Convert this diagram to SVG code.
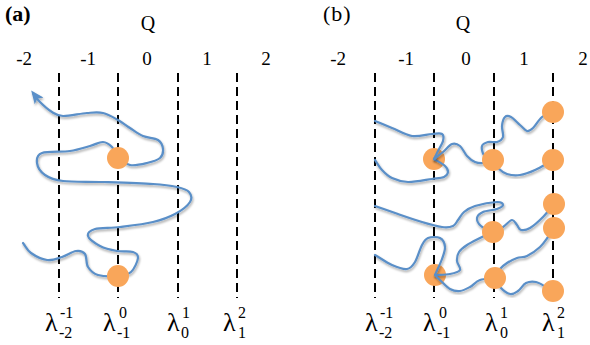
<svg xmlns="http://www.w3.org/2000/svg" width="590" height="345" viewBox="0 0 590 345">
<defs>
<style>
.t{font-family:"Liberation Serif","Times New Roman",serif;fill:#000}
.num{font-size:19px}
.q{font-size:20px}
.lab{font-size:22px}
.lam{font-size:26px}
.sc{font-size:16px}
.dash{stroke:#000;stroke-width:2;stroke-dasharray:9 5;fill:none}
.cv{fill:none;stroke:#5A8FC8;stroke-width:2.2;stroke-linecap:round;stroke-linejoin:round;filter:url(#sh)}
.dot{fill:#F9A65A}
</style>
<filter id="sh" x="-10%" y="-10%" width="120%" height="130%">
<feDropShadow dx="0.8" dy="1.8" stdDeviation="1.2" flood-color="#000" flood-opacity="0.35"/>
</filter>
<marker id="ah" markerUnits="userSpaceOnUse" markerWidth="13" markerHeight="11" viewBox="0 0 13 11" refX="10" refY="5.5" orient="auto">
<path d="M0,0 L13,5.5 L0,11 L3,5.5 Z" fill="#5A8FC8"/>
</marker>
</defs>

<g id="axis-a">
<text class="t lab" x="5" y="21" font-weight="bold">(a)</text>
<text class="t q" x="148" y="30" text-anchor="middle">Q</text>
<text class="t num" x="32" y="65" text-anchor="end">-2</text>
<text class="t num" x="96" y="65" text-anchor="end">-1</text>
<text class="t num" x="147" y="65" text-anchor="middle">0</text>
<text class="t num" x="207" y="65" text-anchor="middle">1</text>
<text class="t num" x="266" y="65" text-anchor="middle">2</text>
<line class="dash" x1="59" y1="73" x2="59" y2="298"/>
<line class="dash" x1="118" y1="73" x2="118" y2="298"/>
<line class="dash" x1="178" y1="73" x2="178" y2="298"/>
<line class="dash" x1="237" y1="73" x2="237" y2="298"/>
<text class="t lam" x="45" y="331">λ</text><text class="t sc" x="60" y="318">-1</text><text class="t sc" x="59" y="338">-2</text>
<text class="t lam" x="103" y="331">λ</text><text class="t sc" x="119" y="318">0</text><text class="t sc" x="117" y="338">-1</text>
<text class="t lam" x="167" y="331">λ</text><text class="t sc" x="182" y="318">1</text><text class="t sc" x="181" y="338">0</text>
<text class="t lam" x="223" y="331">λ</text><text class="t sc" x="238" y="318">2</text><text class="t sc" x="238" y="338">1</text>
</g>

<g id="axis-b">
<text class="t lab" x="323" y="21" letter-spacing="1">(b)</text>
<text class="t q" x="463" y="30" text-anchor="middle">Q</text>
<text class="t num" x="346" y="65" text-anchor="end">-2</text>
<text class="t num" x="414" y="65" text-anchor="end">-1</text>
<text class="t num" x="466" y="65" text-anchor="middle">0</text>
<text class="t num" x="524" y="65" text-anchor="middle">1</text>
<text class="t num" x="583" y="65" text-anchor="middle">2</text>
<line class="dash" x1="375" y1="73" x2="375" y2="298"/>
<line class="dash" x1="434" y1="73" x2="434" y2="298"/>
<line class="dash" x1="494" y1="73" x2="494" y2="298"/>
<line class="dash" x1="553" y1="73" x2="553" y2="298"/>
<text class="t lam" x="365" y="331">λ</text><text class="t sc" x="380" y="318">-1</text><text class="t sc" x="379" y="338">-2</text>
<text class="t lam" x="423" y="331">λ</text><text class="t sc" x="439" y="318">0</text><text class="t sc" x="437" y="338">-1</text>
<text class="t lam" x="485" y="331">λ</text><text class="t sc" x="500" y="318">1</text><text class="t sc" x="500" y="338">0</text>
<text class="t lam" x="542" y="331">λ</text><text class="t sc" x="557" y="318">2</text><text class="t sc" x="557" y="338">1</text>
</g>

<g id="b-L1"><circle class="dot" cx="434" cy="159" r="11"/></g>
<g id="b-L2"><circle class="dot" cx="435" cy="275" r="11"/></g>

<g id="connectors">
<path class="cv" marker-end="url(#ah)" d="M23 243 C25.7 246.3 27 250.2 31 253 S41.8 259.3 47 260 S57.2 258.5 62 257 S72.2 251.5 76 251 S83 251.3 85 254 S85.8 263.5 88 267 S93 273.5 98 275 S112.5 276.5 118 276 S127.7 275 131 272 S137.7 261.3 138 258 S136.5 253.2 133 252 S122.5 252 117 251 S104.8 248.5 100 246 S88.8 238.8 88 236 S89.7 230.5 95 229 S110.3 228.2 120 227 S143.8 224.2 153 222 S168.8 217.3 175 214 S187.7 205.7 190 202 S191.2 194.5 189 192 S183 188.3 177 187 S165.3 184.8 153 184 S118 182.5 103 182 S72.7 182.2 63 181 S49.3 178 45 175 S37.5 166.7 37 163 S36.5 155 42 153 S62 152.2 70 151 S84.5 147.5 90 146 S99.3 141.8 103 142 S109.5 144.5 112 147 S115 154 118 157 S125.2 164 130 165 S142 164.2 147 163 S157.3 160.3 160 158 S163.3 152 163 149 S161.3 142.2 158 140 S147.7 138 143 136 S134.2 130.7 130 128 S122.5 122.5 118 120 S108.2 114.2 103 113 S93.7 112.5 87 113 S68.8 116.2 63 116 S55.8 114.3 52 112 S43.2 105.2 40 102 S35.3 96 33 93"/>
<path class="cv" d="M375 121 C380.7 123.3 385.8 125.5 392 128 S405.3 135 412 136 S427 134.3 432 134 S440.2 132.8 442 134 S443.7 138.2 443 141 S439.5 148 438 151 S435.3 156.3 434 159"/>
<path class="cv" d="M434 159 C437.7 161.3 442.7 163.8 445 166 S448.2 170.2 448 172 S446.7 175.8 444 177 S438 178.2 432 179 S414.7 182.2 408 182 S396.3 180 392 178 S384.8 173 382 170 S377.3 163.3 375 160"/>
<path class="cv" d="M434 159 C437 156.7 440 154.5 443 152 S449.2 145 452 144 S457.5 144 460 146 S464.5 153.3 467 156 S472.2 160.8 475 162 S481 163.3 484 163 S490 161 493 160"/>
<path class="cv" d="M493 160 C490 158.3 485.8 157.3 484 155 S481.3 148.2 482 146 S485.5 142.7 488 142 S494.5 142.8 497 142 S502.2 139.7 503 137 S501.7 129.3 502 126 S503.5 118.5 505 117 S508.5 115.7 511 117 S517.3 122.7 520 125 S524.8 130.5 527 131 S530.5 130.3 533 128 S538.7 119.7 542 117 S549.3 113.7 553 112"/>
<path class="cv" d="M493 160 C494.7 162.7 495.7 165.7 498 168 S503.3 172.8 507 174 S515.3 175.7 520 175 S529.5 172.5 535 170 S547 163.3 553 160"/>
<path class="cv" d="M375 206 C382.7 208.7 390.2 211.3 398 214 S414.7 219.8 422 222 S436.8 226.3 442 227 S450.3 227.2 453 226 S456.2 222.3 458 220 S461.2 214.3 464 212 S469.5 207.7 475 206 S492.3 202.2 497 202 S503 203.8 503 205 S500.3 207.8 497 209 S486.3 210.5 483 212 S477.3 215.7 477 218 S478.3 223.7 481 226 S489 230 493 232"/>
<path class="cv" d="M493 232 C496.3 230.3 499.8 229 503 227 S509.7 220.3 512 220 S515.5 223.3 517 225 S518.8 229.5 521 230 S526.3 230.2 530 228 S539 221 543 217 S550.3 208.3 554 204"/>
<path class="cv" d="M375 255 C380.7 258.3 386.7 262.7 392 265 S403.2 269.5 407 269 S412.5 266 415 262 S419.8 249 422 245 S425 239.2 428 238 S437.2 236.5 440 238 S444.7 243.5 445 247 S443.7 254.3 442 259 S437.3 269.7 435 275"/>
<path class="cv" d="M435 275 C440 274.7 445.8 274.8 450 274 S458.8 272.2 460 270 S457.2 264 457 261 S457.3 254.7 459 252 S463.5 247.3 467 245 S475.7 240.2 480 238 S488.7 234 493 232"/>
<path class="cv" d="M435 275 C437 277 438.5 278.7 441 281 S446.8 287.3 450 289 S456.7 291.3 460 291 S466.7 288.8 470 287 S475.8 281.5 480 280 S490 278.7 495 278"/>
<path class="cv" d="M495 278 C496.7 275 498 271.5 500 269 S504.2 264.8 507 263 S513.7 259.2 517 258 S523.2 257.8 527 256 S536.5 250.2 540 247 S545.7 240.2 548 237 S552 231 554 228"/>
<path class="cv" d="M495 278 C496.7 281 497.5 284.3 500 287 S507 293.3 510 294 S515.3 292.8 518 291 S523 284.5 526 283 S532.7 281.3 536 282 S543.2 285.5 546 287 S550.7 289.7 553 291"/>
</g>

<g id="a-n1"><circle class="dot" cx="118" cy="158" r="11"/></g>
<g id="a-n2"><circle class="dot" cx="118" cy="276" r="11"/></g>
<g id="b-M1"><circle class="dot" cx="493" cy="160" r="11"/></g>
<g id="b-M2"><circle class="dot" cx="493" cy="232" r="11"/></g>
<g id="b-M3"><circle class="dot" cx="495" cy="278" r="11"/></g>
<g id="b-R1"><circle class="dot" cx="553" cy="112" r="11"/></g>
<g id="b-R2"><circle class="dot" cx="553" cy="160" r="11"/></g>
<g id="b-R3"><circle class="dot" cx="554" cy="204" r="11"/></g>
<g id="b-R4"><circle class="dot" cx="554" cy="228" r="11"/></g>
<g id="b-R5"><circle class="dot" cx="553" cy="291" r="11"/></g>
</svg>
